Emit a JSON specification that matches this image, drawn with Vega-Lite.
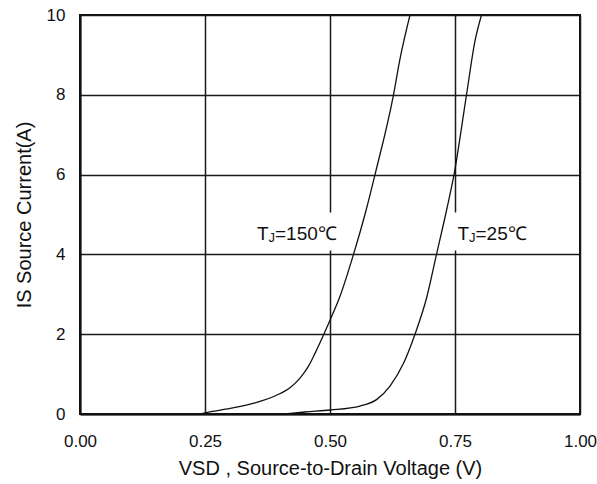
{
  "$schema": "https://vega.github.io/schema/vega-lite/v6.json",
  "width": 500,
  "height": 399,
  "autosize": {"type": "none"},
  "padding": {"left": 80, "top": 15, "right": 17, "bottom": 70},
  "background": "white",
  "config": {
    "font": "Liberation Sans",
    "view": {"stroke": "#111", "strokeWidth": 2},
    "axis": {
      "grid": true,
      "gridColor": "#1a1a1a",
      "gridWidth": 1.5,
      "gridOpacity": 1,
      "domainColor": "#111",
      "domainWidth": 2,
      "ticks": false,
      "tickSize": 0,
      "labelFont": "Liberation Sans",
      "labelFontSize": 17,
      "labelColor": "#111",
      "titleFont": "Liberation Sans",
      "titleFontSize": 20,
      "titleFontWeight": "normal",
      "titleColor": "#111"
    }
  },
  "datasets": {
    "curves": [
      {"series": "150C", "v": 0.24, "i": 0.0},
      {"series": "150C", "v": 0.25, "i": 0.03},
      {"series": "150C", "v": 0.30, "i": 0.14},
      {"series": "150C", "v": 0.35, "i": 0.28},
      {"series": "150C", "v": 0.393, "i": 0.47},
      {"series": "150C", "v": 0.42, "i": 0.66},
      {"series": "150C", "v": 0.44, "i": 0.9},
      {"series": "150C", "v": 0.457, "i": 1.2},
      {"series": "150C", "v": 0.47, "i": 1.52},
      {"series": "150C", "v": 0.487, "i": 1.98},
      {"series": "150C", "v": 0.50, "i": 2.35},
      {"series": "150C", "v": 0.52, "i": 2.95},
      {"series": "150C", "v": 0.547, "i": 4.0},
      {"series": "150C", "v": 0.572, "i": 5.1},
      {"series": "150C", "v": 0.59, "i": 6.0},
      {"series": "150C", "v": 0.627, "i": 8.0},
      {"series": "150C", "v": 0.64, "i": 8.9},
      {"series": "150C", "v": 0.66, "i": 10.0},
      {"series": "25C", "v": 0.41, "i": 0.0},
      {"series": "25C", "v": 0.45, "i": 0.05},
      {"series": "25C", "v": 0.50, "i": 0.10},
      {"series": "25C", "v": 0.56, "i": 0.2},
      {"series": "25C", "v": 0.593, "i": 0.36},
      {"series": "25C", "v": 0.62, "i": 0.7},
      {"series": "25C", "v": 0.647, "i": 1.27},
      {"series": "25C", "v": 0.67, "i": 2.0},
      {"series": "25C", "v": 0.693, "i": 2.9},
      {"series": "25C", "v": 0.713, "i": 4.0},
      {"series": "25C", "v": 0.733, "i": 5.1},
      {"series": "25C", "v": 0.748, "i": 6.0},
      {"series": "25C", "v": 0.773, "i": 8.0},
      {"series": "25C", "v": 0.79, "i": 9.35},
      {"series": "25C", "v": 0.803, "i": 10.0}
    ],
    "boxes": [
      {"v1": 0.34, "v2": 0.535, "i1": 4.1, "i2": 5.05},
      {"v1": 0.74, "v2": 0.93, "i1": 4.1, "i2": 5.05}
    ],
    "mainText": [
      {"v": 0.354, "i": 4.37, "t": "T"},
      {"v": 0.39, "i": 4.37, "t": "=150℃"},
      {"v": 0.755, "i": 4.37, "t": "T"},
      {"v": 0.791, "i": 4.37, "t": "=25℃"}
    ],
    "subText": [
      {"v": 0.377, "i": 4.37, "t": "J"},
      {"v": 0.778, "i": 4.37, "t": "J"}
    ]
  },
  "layer": [
    {
      "data": {"name": "boxes"},
      "mark": {"type": "rect", "color": "white"},
      "encoding": {
        "x": {
          "field": "v1", "type": "quantitative",
          "scale": {"domain": [0, 1], "nice": false},
          "axis": {
            "values": [0, 0.25, 0.5, 0.75, 1],
            "format": ".2f",
            "labelPadding": 19,
            "labelFlush": false,
            "title": "VSD , Source-to-Drain Voltage (V)",
            "titlePadding": 9
          }
        },
        "x2": {"field": "v2"},
        "y": {
          "field": "i1", "type": "quantitative",
          "scale": {"domain": [0, 10], "nice": false},
          "axis": {
            "values": [0, 2, 4, 6, 8, 10],
            "labelPadding": 15,
            "title": "IS Source Current(A)",
            "titlePadding": 12
          }
        },
        "y2": {"field": "i2"}
      }
    },
    {
      "data": {"name": "curves"},
      "mark": {"type": "line", "color": "#111", "strokeWidth": 1.3, "interpolate": "monotone", "clip": true},
      "encoding": {
        "x": {"field": "v", "type": "quantitative"},
        "y": {"field": "i", "type": "quantitative"},
        "detail": {"field": "series"}
      }
    },
    {
      "data": {"name": "mainText"},
      "mark": {"type": "text", "align": "left", "baseline": "alphabetic", "fontSize": 19, "font": "Liberation Sans", "color": "#111"},
      "encoding": {
        "x": {"field": "v", "type": "quantitative"},
        "y": {"field": "i", "type": "quantitative"},
        "text": {"field": "t"}
      }
    },
    {
      "data": {"name": "subText"},
      "mark": {"type": "text", "align": "left", "baseline": "alphabetic", "fontSize": 13, "dy": 2, "font": "Liberation Sans", "color": "#111"},
      "encoding": {
        "x": {"field": "v", "type": "quantitative"},
        "y": {"field": "i", "type": "quantitative"},
        "text": {"field": "t"}
      }
    }
  ]
}
